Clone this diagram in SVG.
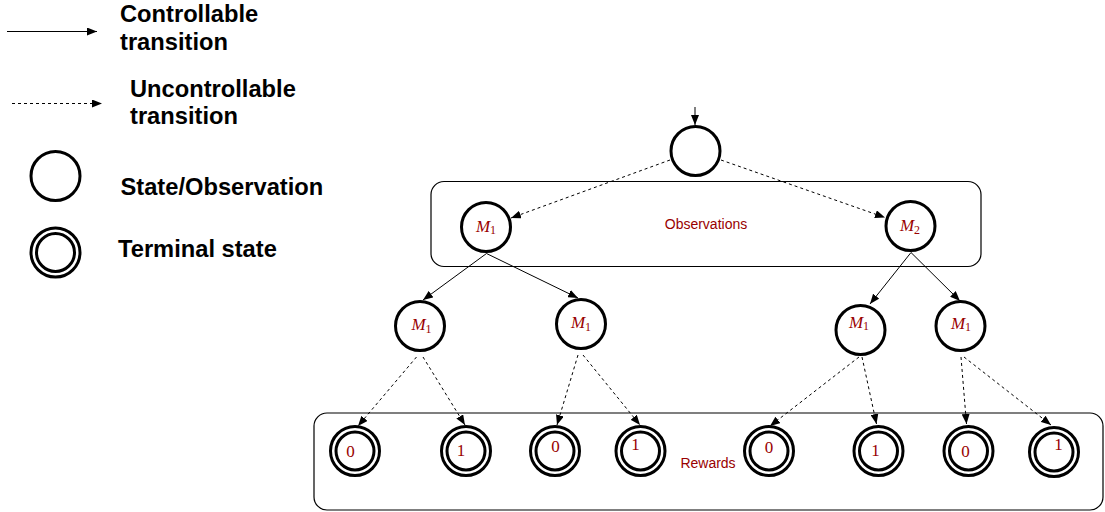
<svg xmlns="http://www.w3.org/2000/svg" width="1105" height="512" viewBox="0 0 1105 512">
<defs>
<marker id="ah" markerUnits="userSpaceOnUse" markerWidth="10" markerHeight="8" viewBox="0 0 10 8" refX="10" refY="4" orient="auto">
<path d="M0,0 L10,4 L0,8 Z" fill="#000"/>
</marker>
</defs>
<style>
.leg{font-family:"Liberation Sans",Arial,Helvetica,sans-serif;font-weight:bold;font-size:23.7px;fill:#000}
.lbl{font-family:"Liberation Sans",Arial,Helvetica,sans-serif;font-size:14px;fill:#990000}
.math{font-family:"Liberation Serif","Times New Roman",serif;font-size:17px;fill:#990000}
.node{fill:#fff;stroke:#000;stroke-width:3}
.box{fill:none;stroke:#000;stroke-width:1.2}
.solid{stroke:#000;stroke-width:1;fill:none;marker-end:url(#ah)}
.dash{stroke:#000;stroke-width:1;fill:none;stroke-dasharray:3,3;marker-end:url(#ah)}
</style>
<rect width="1105" height="512" fill="#fff"/>

<g id="legend">
<line class="solid" x1="7" y1="31.5" x2="97" y2="31.5"/>
<text class="leg" x="120" y="22">Controllable</text>
<text class="leg" x="120" y="49.5">transition</text>
<line class="dash" x1="12" y1="103.5" x2="102" y2="103.5"/>
<text class="leg" x="130" y="96.5">Uncontrollable</text>
<text class="leg" x="130" y="124">transition</text>
<circle class="node" cx="55.5" cy="176" r="24.5" stroke-width="2.5"/>
<text class="leg" x="120.5" y="195">State/Observation</text>
<circle class="node" cx="55.5" cy="252.5" r="24.5" stroke-width="2.5"/>
<circle class="node" cx="55.5" cy="252.5" r="19" stroke-width="2.5"/>
<text class="leg" x="118" y="256.5">Terminal state</text>
</g>

<g id="observations">
<rect class="box" x="431" y="181.5" width="550" height="85" rx="13"/>
<text class="lbl" x="706" y="229" text-anchor="middle">Observations</text>
</g>
<g id="rewards">
<rect class="box" x="314" y="413" width="789" height="97" rx="13"/>
<text class="lbl" x="708" y="468" text-anchor="middle">Rewards</text>
</g>

<g id="connectors">
<line class="solid" x1="695" y1="107" x2="695" y2="125"/>
<line class="dash" x1="670" y1="160" x2="511" y2="218"/>
<line class="dash" x1="721" y1="160" x2="885" y2="217.5"/>
<line class="solid" x1="486.5" y1="253.5" x2="423" y2="300"/>
<line class="solid" x1="486.5" y1="253.5" x2="578" y2="298"/>
<line class="solid" x1="911" y1="252.5" x2="870" y2="304"/>
<line class="solid" x1="911" y1="252.5" x2="960" y2="301"/>
<line class="dash" x1="416.5" y1="357" x2="358" y2="426"/>
<line class="dash" x1="423" y1="357" x2="465" y2="425"/>
<line class="dash" x1="578" y1="355" x2="557" y2="425"/>
<line class="dash" x1="583" y1="355" x2="640" y2="425"/>
<line class="dash" x1="859" y1="357" x2="770" y2="426"/>
<line class="dash" x1="862" y1="357" x2="876.5" y2="424"/>
<line class="dash" x1="961" y1="357" x2="966.5" y2="424"/>
<line class="dash" x1="964" y1="357" x2="1051" y2="425"/>
</g>

<g id="n0"><circle class="node" cx="695.5" cy="151" r="24.5"/></g>

<g id="n1"><circle class="node" cx="486" cy="227" r="24.5"/>
<text class="math" x="486" y="231.5" text-anchor="middle"><tspan font-style="italic">M</tspan><tspan font-size="12" dy="2.5">1</tspan></text></g>
<g id="n2"><circle class="node" cx="910.5" cy="226" r="24.5"/>
<text class="math" x="910" y="231" text-anchor="middle"><tspan font-style="italic">M</tspan><tspan font-size="12" dy="2.5">2</tspan></text></g>

<g id="n3"><circle class="node" cx="420" cy="326" r="24.5"/>
<text class="math" x="421.5" y="330" text-anchor="middle"><tspan font-style="italic">M</tspan><tspan font-size="12" dy="2.5">1</tspan></text></g>
<g id="n4"><circle class="node" cx="581" cy="324" r="24.5"/>
<text class="math" x="581" y="328" text-anchor="middle"><tspan font-style="italic">M</tspan><tspan font-size="12" dy="2.5">1</tspan></text></g>
<g id="n5"><circle class="node" cx="860.5" cy="330" r="24.5"/>
<text class="math" x="859" y="327.5" text-anchor="middle"><tspan font-style="italic">M</tspan><tspan font-size="12" dy="2.5">1</tspan></text></g>
<g id="n6"><circle class="node" cx="960.5" cy="326" r="24.5"/>
<text class="math" x="961" y="328.5" text-anchor="middle"><tspan font-style="italic">M</tspan><tspan font-size="12" dy="2.5">1</tspan></text></g>

<g id="t1"><circle class="node" cx="355" cy="451" r="24.5"/><circle class="node" cx="355" cy="451" r="19"/>
<text class="math" x="350.5" y="457" text-anchor="middle">0</text></g>
<g id="t2"><circle class="node" cx="466" cy="451" r="24.5"/><circle class="node" cx="466" cy="451" r="19"/>
<text class="math" x="461" y="456" text-anchor="middle">1</text></g>
<g id="t3"><circle class="node" cx="555" cy="451" r="24.5"/><circle class="node" cx="555" cy="451" r="19"/>
<text class="math" x="555.5" y="451.5" text-anchor="middle">0</text></g>
<g id="t4"><circle class="node" cx="640.5" cy="451" r="24.5"/><circle class="node" cx="640.5" cy="451" r="19"/>
<text class="math" x="635.5" y="450" text-anchor="middle">1</text></g>
<g id="t5"><circle class="node" cx="769" cy="451" r="24.5"/><circle class="node" cx="769" cy="451" r="19"/>
<text class="math" x="769" y="452.5" text-anchor="middle">0</text></g>
<g id="t6"><circle class="node" cx="878.5" cy="451" r="24.5"/><circle class="node" cx="878.5" cy="451" r="19"/>
<text class="math" x="875.5" y="456" text-anchor="middle">1</text></g>
<g id="t7"><circle class="node" cx="968.5" cy="451" r="24.5"/><circle class="node" cx="968.5" cy="451" r="19"/>
<text class="math" x="965.5" y="456.5" text-anchor="middle">0</text></g>
<g id="t8"><circle class="node" cx="1054" cy="452" r="24.5"/><circle class="node" cx="1054" cy="452" r="19"/>
<text class="math" x="1058.5" y="450" text-anchor="middle">1</text></g>
</svg>
